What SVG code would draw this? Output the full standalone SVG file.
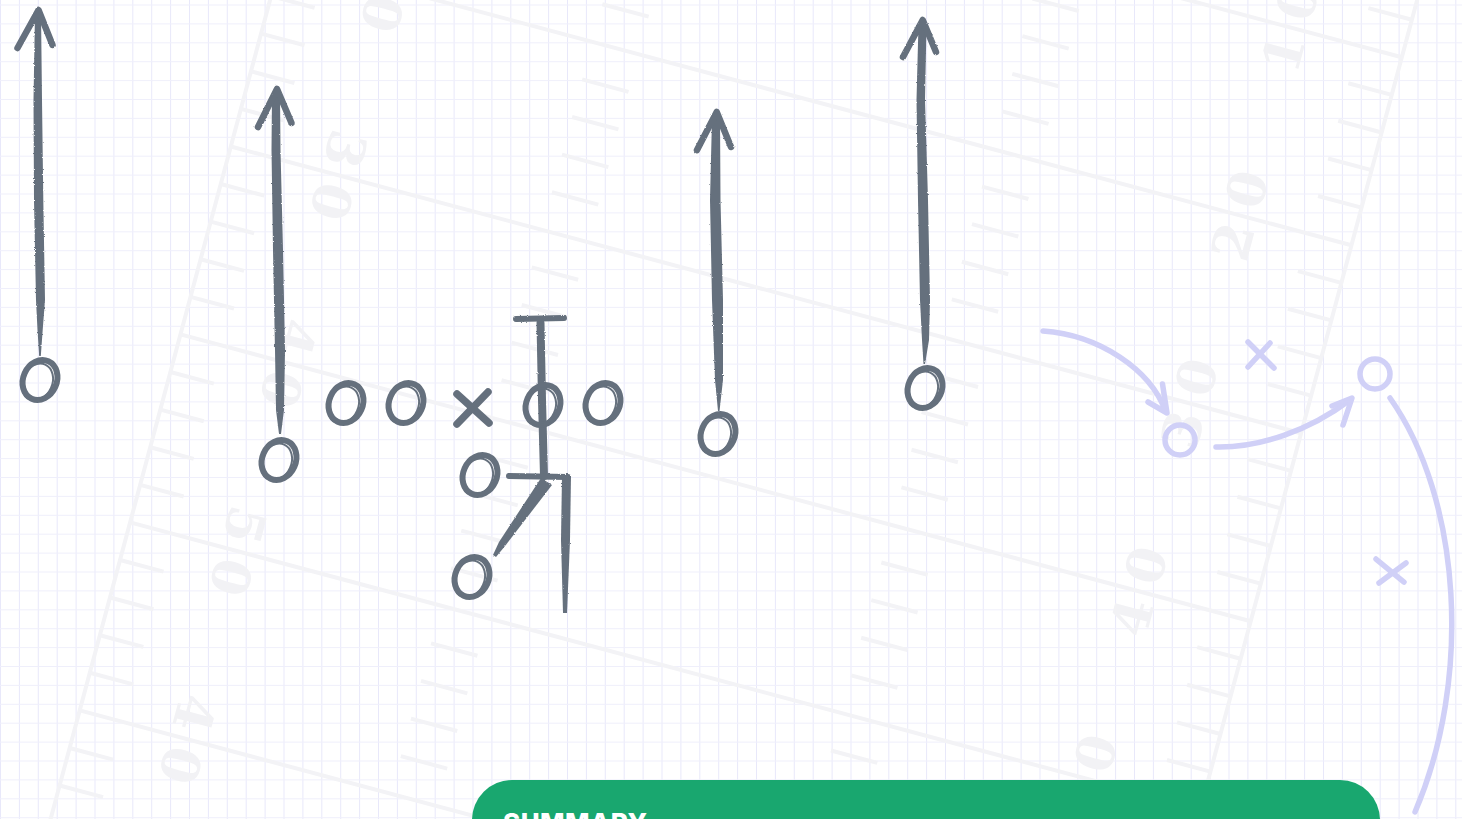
<svg xmlns="http://www.w3.org/2000/svg" xmlns:xlink="http://www.w3.org/1999/xlink" width="1462" height="819" viewBox="0 0 1462 819">
<style>
.fld{fill:none;stroke:#f3f3f6;stroke-width:4}
.num{fill:#f2f2f5;font-family:"DejaVu Serif",serif;font-weight:bold;font-size:52px;text-anchor:middle}
.ink{fill:#65707d}
.inks{fill:none;stroke:#65707d;stroke-linecap:round;stroke-linejoin:round}
.o{fill:none;stroke:#65707d;stroke-width:6}
.oi{fill:none;stroke:#65707d;stroke-width:2}
.pl{fill:none;stroke:#d0d0f7;stroke-width:5.5;stroke-linecap:round;stroke-linejoin:round}
</style>
<defs>
<pattern id="grid" width="18.9" height="18.9" patternUnits="userSpaceOnUse" x="0" y="4.5">
<rect x="0" y="0" width="1" height="18.9" fill="#e8e8fa"/>
<rect x="0" y="0" width="18.9" height="1" fill="#efeffb"/>
</pattern>
<path id="tk" d="M0 0H45M322 0H370M736 0H784M1063 0H1108"/>
<g id="oo"><ellipse class="o" transform="rotate(24)" rx="16.8" ry="20.5"/><ellipse class="oi" transform="translate(-2.5,2) rotate(24)" rx="14.8" ry="19"/></g>
<filter id="chalk" filterUnits="userSpaceOnUse" x="0" y="0" width="1462" height="819">
<feTurbulence type="fractalNoise" baseFrequency="1.1" numOctaves="1" seed="3" result="n"/>
<feDisplacementMap in="SourceGraphic" in2="n" scale="2.4" xChannelSelector="R" yChannelSelector="G"/>
</filter>
</defs>
<g id="background">
<rect width="1462" height="819" fill="#ffffff"/>
<rect width="1462" height="819" fill="url(#grid)"/>
<g id="field" transform="translate(130.1,522.4) rotate(15)">
<g class="fld">
<path d="M0 -950V420M1108 -950V420"/>
<path d="M0 -973H1108M0 -778.4H1108M0 -583.8H1108M0 -389.2H1108M0 -194.6H1108M0 0H1108M0 194.6H1108M0 389.2H1108"/>
<use xlink:href="#tk" y="-856.2"/><use xlink:href="#tk" y="-817.3"/><use xlink:href="#tk" y="-739.5"/><use xlink:href="#tk" y="-700.6"/><use xlink:href="#tk" y="-661.6"/><use xlink:href="#tk" y="-622.7"/><use xlink:href="#tk" y="-544.9"/><use xlink:href="#tk" y="-506"/><use xlink:href="#tk" y="-467"/><use xlink:href="#tk" y="-428.1"/><use xlink:href="#tk" y="-350.3"/><use xlink:href="#tk" y="-311.4"/><use xlink:href="#tk" y="-272.4"/><use xlink:href="#tk" y="-233.5"/><use xlink:href="#tk" y="-155.7"/><use xlink:href="#tk" y="-116.8"/><use xlink:href="#tk" y="-77.8"/><use xlink:href="#tk" y="-38.9"/><use xlink:href="#tk" y="38.9"/><use xlink:href="#tk" y="77.8"/><use xlink:href="#tk" y="116.8"/><use xlink:href="#tk" y="155.7"/><use xlink:href="#tk" y="233.5"/><use xlink:href="#tk" y="272.4"/><use xlink:href="#tk" y="311.4"/>
</g>
<g class="num">
<text transform="translate(111,-610.8) rotate(90)" y="18">2</text><text transform="translate(111,-556.8) rotate(90)" y="18">0</text>
<text transform="translate(111,-416.2) rotate(90)" y="18">3</text><text transform="translate(111,-362.2) rotate(90)" y="18">0</text>
<text transform="translate(111,-221.6) rotate(90)" y="18">4</text><text transform="translate(111,-167.6) rotate(90)" y="18">0</text>
<text transform="translate(111,-27) rotate(90)" y="18">5</text><text transform="translate(111,27) rotate(90)" y="18">0</text>
<text transform="translate(111,167.6) rotate(90)" y="18">4</text><text transform="translate(111,221.6) rotate(90)" y="18">0</text>
<text transform="translate(993,-751.4) rotate(-90)" y="18">1</text><text transform="translate(993,-805.4) rotate(-90)" y="18">0</text>
<text transform="translate(993,-556.8) rotate(-90)" y="18">2</text><text transform="translate(993,-610.8) rotate(-90)" y="18">0</text>
<text transform="translate(993,-362.2) rotate(-90)" y="18">3</text><text transform="translate(993,-416.2) rotate(-90)" y="18">0</text>
<text transform="translate(993,-167.6) rotate(-90)" y="18">4</text><text transform="translate(993,-221.6) rotate(-90)" y="18">0</text>
<text transform="translate(993,27) rotate(-90)" y="18">5</text><text transform="translate(993,-27) rotate(-90)" y="18">0</text>
</g>
</g>
</g>
<g id="connectors">
<g id="routes-dark" filter="url(#chalk)">
<g id="route-1">
<polygon class="ink" points="35,12 33.5,100 34,200 36,300 37.5,330 39.2,356 40.8,356 42.7,330 45,300 43.3,200 42,100 41,12"/>
<path class="inks" stroke-width="6.5" d="M17.5,48 L38.5,10 L52.5,45"/>
</g>
<g id="route-2">
<polygon class="ink" points="272,95 271.5,150 273,250 275,350 276,410 279,434 281,434 284,410 285,350 283,250 280.5,150 280,95"/>
<path class="inks" stroke-width="6.5" d="M258,127 L277,89 L291.5,123"/>
</g>
<g id="route-3">
<polygon class="ink" points="712,118 710,200 712,300 715,380 718,411 719.5,411 723,380 723,300 720.5,200 720,118"/>
<path class="inks" stroke-width="6.5" d="M697,150 L716.7,112 L731,147"/>
</g>
<g id="route-4">
<polygon class="ink" points="918.5,24 916.5,100 918,200 920,300 922,340 923.5,364 925,364 929,340 930,300 928,200 925,100 926.5,24"/>
<path class="inks" stroke-width="6.5" d="M903,57 L922.7,20 L936,52"/>
</g>
<g id="route-center">
<path class="inks" stroke-width="6" d="M516,319 L564,318"/>
<path class="inks" stroke-width="8" d="M540.5,323 L542,400 L544,476"/>
<path class="inks" stroke-width="6" d="M509,476 L568,477"/>
<polygon class="ink" points="562,475 561,540 563,613 567,613 570,540 571,475"/>
<polygon class="ink" points="541,478 552,485 505,546 496,557 493,555 499,542"/>
</g>
</g>
<g id="routes-light">
<path class="pl" d="M1043,331 C1100,335 1150,370 1165,410"/>
<path class="pl" d="M1162.5,384 L1167,413 L1148,402"/>
<path class="pl" d="M1216,447 C1260,448 1310,430 1350,400"/>
<path class="pl" d="M1332,406 L1352,398 L1343,425"/>
<path class="pl" d="M1390,398 C1462,500 1472,680 1415,812"/>
</g>
</g>
<g id="players">
<g id="p1"><use xlink:href="#oo" x="40" y="380"/></g>
<g id="p2"><use xlink:href="#oo" x="279" y="460"/></g>
<g id="p3"><use xlink:href="#oo" x="346" y="403"/></g>
<g id="p4"><use xlink:href="#oo" x="406" y="403"/></g>
<g id="p5"><path class="inks" stroke-width="7.5" d="M457,394 L489,423 M488,392 L457,424"/></g>
<g id="p6"><use xlink:href="#oo" x="543" y="405"/></g>
<g id="p7"><use xlink:href="#oo" x="603" y="403"/></g>
<g id="p8"><use xlink:href="#oo" x="480" y="475"/></g>
<g id="p9"><use xlink:href="#oo" x="472" y="577"/></g>
<g id="p10"><use xlink:href="#oo" x="718" y="434"/></g>
<g id="p11"><use xlink:href="#oo" x="925" y="388"/></g>
<g id="d1"><circle class="pl" cx="1180" cy="440" r="15"/></g>
<g id="d2"><circle class="pl" cx="1375" cy="374" r="15"/></g>
<g id="d3"><path class="pl" d="M1248,342 L1274,368 M1270,343 L1248,367"/></g>
<g id="d4"><path class="pl" d="M1376,559 L1404,582 M1379,583 L1406,563"/></g>
</g>
<g id="summary">
<rect x="472" y="780" width="908" height="100" rx="40" fill="#19a76f"/>
<text x="503" y="832" fill="#ffffff" font-family="Inter, 'Liberation Sans', sans-serif" font-weight="800" font-size="26" letter-spacing="0.5">SUMMARY</text>
</g>
</svg>
